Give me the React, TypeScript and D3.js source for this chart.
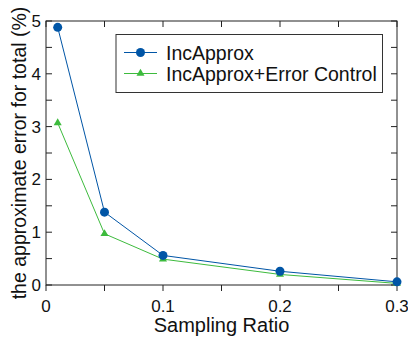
import * as d3 from "d3";

const ratios = [0.01, 0.05, 0.1, 0.2, 0.3];
const incApprox = [4.88, 1.38, 0.56, 0.26, 0.06];
const errorControl = [3.07, 0.97, 0.49, 0.2, 0.03];
const seriesNames = ["IncApprox", "IncApprox+Error Control"];
const xTicks = [0, 0.1, 0.2, 0.3];
const xMinor = [0, 0.05, 0.1, 0.15, 0.2, 0.25, 0.3];
const yTicks = [0, 1, 2, 3, 4, 5];
const yMinor = [0, 0.5, 1, 1.5, 2, 2.5, 3, 3.5, 4, 4.5, 5];

const BLUE = "#0055a6";
const GREEN = "#3dbb3d";
const FONT = "Liberation Sans, Arial, sans-serif";

export default function App() {
  const width = 408;
  const height = 337;
  const left = 46;
  const right = 397;
  const top = 21;
  const bottom = 285;

  const x = d3.scaleLinear().domain([0, 0.3]).range([left, right]);
  const y = d3.scaleLinear().domain([0, 5]).range([bottom, top]);

  const line = d3
    .line<number>()
    .x((_, i) => x(ratios[i]))
    .y((d) => y(d));

  const tri = d3.symbol(d3.symbolTriangle, 28)() || "";
  const tick = 6;

  return (
    <svg
      width={width}
      height={height}
      style={{ position: "absolute", left: 0, top: 0, fontFamily: FONT }}
    >
      <rect x={0} y={0} width={width} height={height} fill="#fff" />

      {/* ticks */}
      {xMinor.map((t) => (
        <g key={"x" + t} stroke="#222" strokeWidth={1}>
          <line x1={x(t)} x2={x(t)} y1={bottom} y2={bottom + tick} />
          <line x1={x(t)} x2={x(t)} y1={top} y2={top + tick} />
        </g>
      ))}
      {yMinor.map((t) => (
        <g key={"y" + t} stroke="#222" strokeWidth={1}>
          <line x1={left} x2={left + tick} y1={y(t)} y2={y(t)} />
          <line x1={right} x2={right - tick} y1={y(t)} y2={y(t)} />
        </g>
      ))}
      <rect
        x={left}
        y={top}
        width={right - left}
        height={bottom - top}
        fill="none"
        stroke="#222"
        strokeWidth={1}
      />

      {xTicks.map((t) => (
        <text
          key={"xl" + t}
          x={x(t)}
          y={311.5}
          fontSize={17}
          textAnchor="middle"
          fill="#111"
        >
          {String(t)}
        </text>
      ))}
      {yTicks.map((t) => (
        <text
          key={"yl" + t}
          x={41}
          y={y(t) + 6}
          fontSize={17}
          textAnchor="end"
          fill="#111"
        >
          {t}
        </text>
      ))}

      <text
        x={(left + right) / 2}
        y={332}
        fontSize={20}
        textAnchor="middle"
        fill="#111"
      >
        Sampling Ratio
      </text>
      <text
        transform={`translate(26,153) rotate(-90)`}
        fontSize={19.5}
        textAnchor="middle"
        fill="#111"
      >
        the approximate error for total (%)
      </text>

      {/* series */}
      <path d={line(errorControl) || ""} fill="none" stroke={GREEN} strokeWidth={1} />
      {errorControl.map((d, i) => (
        <path
          key={"g" + i}
          d={tri}
          transform={`translate(${x(ratios[i])},${y(d)})`}
          fill={GREEN}
        />
      ))}
      <path d={line(incApprox) || ""} fill="none" stroke={BLUE} strokeWidth={1} />
      {incApprox.map((d, i) => (
        <circle key={"b" + i} cx={x(ratios[i])} cy={y(d)} r={4.5} fill={BLUE} />
      ))}

      {/* legend */}
      <rect
        x={116}
        y={34.5}
        width={266.5}
        height={58}
        fill="#fff"
        stroke="#333"
        strokeWidth={1}
      />
      <line x1={124} x2={157} y1={52.5} y2={52.5} stroke={BLUE} strokeWidth={1} />
      <circle cx={140.5} cy={52.5} r={4.5} fill={BLUE} />
      <text x={166} y={59.5} fontSize={19.5} fill="#111">
        {seriesNames[0]}
      </text>
      <line x1={124} x2={157} y1={73.5} y2={73.5} stroke={GREEN} strokeWidth={1} />
      <path d={tri} transform="translate(140.5,73.5)" fill={GREEN} />
      <text x={166} y={80.5} fontSize={19.5} fill="#111">
        {seriesNames[1]}
      </text>
    </svg>
  );
}
